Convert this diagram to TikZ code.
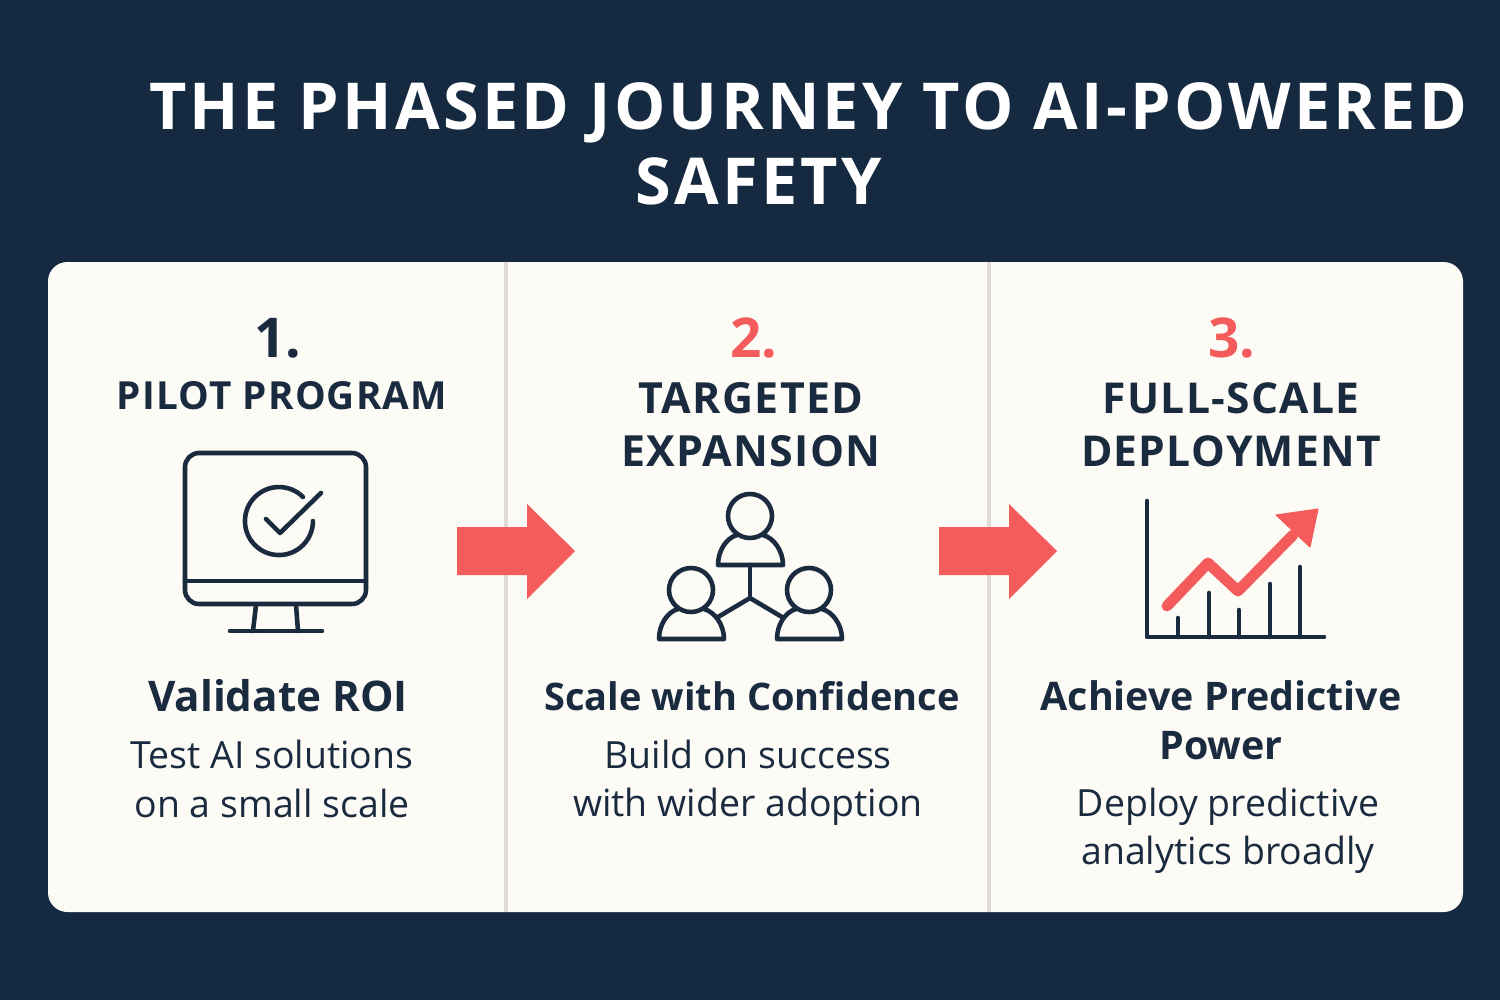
\documentclass[tikz,border=0pt]{standalone}
\usepackage{fontspec}
\setmainfont{Open Sans}
\newfontfamily\titlefont[LetterSpace=5]{Open Sans}
\newfontfamily\headfont[LetterSpace=3]{Open Sans}
\definecolor{navy}{HTML}{152A40}
\definecolor{ink}{HTML}{1A2B3F}
\definecolor{card}{HTML}{FDFBF6}
\definecolor{rule}{HTML}{E0DDD6}
\definecolor{coral}{HTML}{F45B5B}
\tikzset{
  titletext/.style={text=white,font=\titlefont\fontsize{18.4}{21}\selectfont\bfseries},
  numtext/.style={font=\fontsize{15.6}{18}\selectfont\bfseries},
  headtext/.style={text=ink,align=center,font=\headfont\fontsize{#1}{15}\selectfont\bfseries},
  subtext/.style={text=ink,align=center,font=\fontsize{#1}{13.9}\selectfont\bfseries},
  bodytext/.style={text=ink,align=center,font=\fontsize{10.65}{13.7}\selectfont},
  icon/.style={draw=ink,line width=1.3pt,line cap=round,line join=round},
  blockarrow/.style={fill=coral}
}
\begin{document}
\begin{tikzpicture}[x=.01cm,y=-.01cm]
  \fill[navy] (0,0) rectangle (1500,1000);
  \useasboundingbox (0,0) rectangle (1500,1000);
  \fill[card,rounded corners=5.5pt] (48,262) rectangle (1463,912);
  \foreach \x in {506,989}
    \draw[rule,line width=.9pt] (\x,262) -- (\x,912);

  % title
  \node[titletext] (title1) at (808,113) {THE PHASED JOURNEY TO AI-POWERED};
  \node[titletext] (title2) at (759,181) {SAFETY};

  % numbers
  \node[numtext,text=ink] (num1) at (278,338) {1.};
  \node[numtext,text=coral] (num2) at (754,338) {2.};
  \node[numtext,text=coral] (num3) at (1232,338) {3.};

  % headings
  \node[headtext=11] (head1) at (282,396) {PILOT PROGRAM};
  \node[headtext=12.2] (head2) at (751,425) {TARGETED\\EXPANSION};
  \node[headtext=12.1] (head3) at (1231,425) {FULL-SCALE\\DEPLOYMENT};

  % subheadings
  \node[subtext=12] (sub1) at (278,696) {Validate ROI};
  \node[subtext=10.8] (sub2) at (752,696) {Scale with Confidence};
  \node[subtext=11.2] (sub3) at (1221,720) {Achieve Predictive\\Power};

  % body
  \node[bodytext] (body1) at (272,779) {Test AI solutions\\on a small scale};
  \node[bodytext] (body2) at (748,783) {Build on success\\with wider adoption};
  \node[bodytext] (body3) at (1228,831) {Deploy predictive\\analytics broadly};

  % arrows between phases
  \foreach \x in {457,939}
    \fill[blockarrow,shift={(\x,0)}] (0,527) -- (70,527) -- (70,504) -- (118,551)
      -- (70,599) -- (70,575) -- (0,575) -- cycle;

  % monitor
  \draw[icon,rounded corners=4pt] (185,453) rectangle (366,604);
  \draw[icon] (185,581) -- (366,581);
  \draw[icon] (303,497) arc (-45:-360:34);
  \draw[icon] (266,519) -- (280,533) -- (321,493);
  \draw[icon] (256,605) -- (253,631);
  \draw[icon] (296,605) -- (298,631);
  \draw[icon] (230,631) -- (322,631);

  % people
  \foreach \x/\y in {750/516,691/590,809/590}{
    \draw[icon] (\x,\y) circle (22);
    \draw[icon] (\x-13,\y+19) .. controls (\x-24,\y+22) and (\x-32,\y+35) .. (\x-32,\y+49)
      -- (\x+33,\y+49) .. controls (\x+33,\y+35) and (\x+24,\y+22) .. (\x+13,\y+19);
  }
  \draw[icon] (750,565) -- (750,598);
  \draw[icon] (718,617) -- (750,598) -- (782,617);

  % chart
  \draw[icon] (1147,501) -- (1147,637) -- (1324,637);
  \foreach \x/\y in {1178/618,1209/593,1239/610,1270/584,1300/567}
    \draw[icon] (\x,637) -- (\x,\y);
  \draw[coral,line width=3.1pt,line join=round,line cap=round]
    (1167,606) -- (1208,563) -- (1238,591) -- (1293,535);
  \fill[coral,draw=coral,line join=round,line width=.3pt] (1276,515) -- (1318,509) -- (1310,547) -- cycle;
\end{tikzpicture}
\end{document}
